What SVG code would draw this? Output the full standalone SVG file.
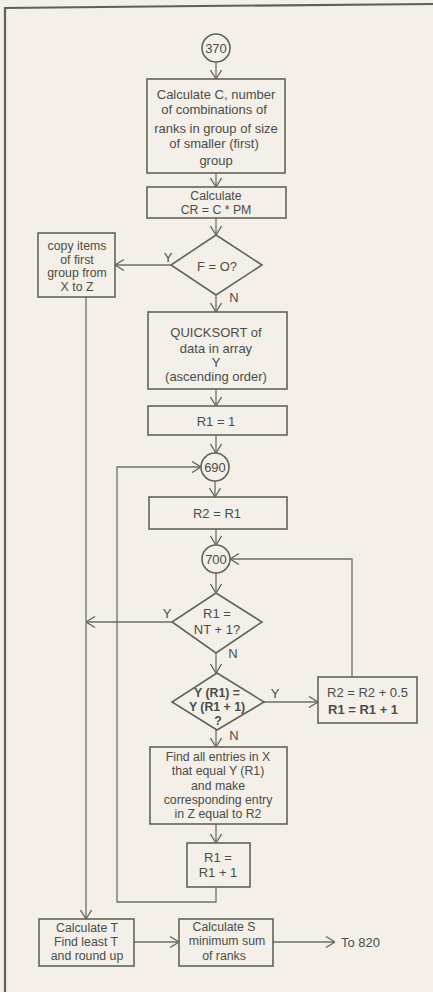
<svg xmlns="http://www.w3.org/2000/svg" width="433" height="992" viewBox="0 0 433 992">
<style>
.bg{fill:#f4efe9}
.n{fill:none;stroke:#5f6656;stroke-width:1.6}
.c{fill:none;stroke:#6b7161;stroke-width:1.3}
.t{font-family:"Liberation Sans",Arial,sans-serif;font-size:13px;fill:#4b4d46;text-anchor:middle;dominant-baseline:central}
.s{font-size:12.3px}
.l{text-anchor:start}
.b{font-weight:bold}
</style>
<defs>
<marker id="a" viewBox="0 0 10 12" refX="10" refY="6" markerWidth="10" markerHeight="12" orient="auto" markerUnits="userSpaceOnUse">
<path d="M1,0.5 L10,6 L1,11.5" fill="none" stroke="#5f6656" stroke-width="1.3"/>
</marker>
</defs>
<rect class="bg" x="0" y="0" width="433" height="992"/>
<path d="M5,992 V8 L200,6 L433,4" fill="none" stroke="#5c6352" stroke-width="2.2"/>

<g id="connectors">
<path class="c" d="M216,62 V79" marker-end="url(#a)"/>
<path class="c" d="M216,173 V187" marker-end="url(#a)"/>
<path class="c" d="M216,218 V235" marker-end="url(#a)"/>
<path class="c" d="M171,265 H115" marker-end="url(#a)"/>
<path class="c" d="M216,295 V312" marker-end="url(#a)"/>
<path class="c" d="M216,389 V406" marker-end="url(#a)"/>
<path class="c" d="M216,435 V453" marker-end="url(#a)"/>
<path class="c" d="M215,481 V497" marker-end="url(#a)"/>
<path class="c" d="M216,529 V545" marker-end="url(#a)"/>
<path class="c" d="M216,573 V593" marker-end="url(#a)"/>
<path class="c" d="M172,622 H86" marker-end="url(#a)"/>
<path class="c" d="M216,653 V673" marker-end="url(#a)"/>
<path class="c" d="M264,702 H318" marker-end="url(#a)"/>
<path class="c" d="M352,677 V559 H230" marker-end="url(#a)"/>
<path class="c" d="M216,730 V747" marker-end="url(#a)"/>
<path class="c" d="M216,824 V843" marker-end="url(#a)"/>
<path class="c" d="M216,887 V902 H117 V467 H201" marker-end="url(#a)"/>
<path class="c" d="M86,297 V919" marker-end="url(#a)"/>
<path class="c" d="M134,942 H179" marker-end="url(#a)"/>
<path class="c" d="M273,942 H335" marker-end="url(#a)"/>
</g>

<g id="n370">
<circle class="n" cx="216" cy="48" r="14"/>
<text class="t" x="216" y="48">370</text>
</g>
<g id="calcC">
<rect class="n" x="147" y="79" width="138" height="94"/>
<text class="t" x="216" y="94">Calculate C,  number</text>
<text class="t" x="214" y="109">of combinations  of</text>
<text class="t" x="216" y="128">ranks  in group of size</text>
<text class="t" x="214" y="143">of smaller (first)</text>
<text class="t" x="216" y="160">group</text>
</g>
<g id="calcCR">
<rect class="n" x="147" y="187" width="139" height="31"/>
<text class="t s" x="216" y="196">Calculate</text>
<text class="t s" x="216" y="210">CR =  C * PM</text>
</g>
<g id="decF">
<polygon class="n" points="216,235 262,265 216,295 171,265"/>
<text class="t" x="217" y="266">F = O?</text>
<text class="t" x="168" y="257">Y</text>
<text class="t" x="234" y="297">N</text>
</g>
<g id="copy">
<rect class="n" x="38" y="233" width="77" height="64"/>
<text class="t s" x="77" y="246">copy items</text>
<text class="t s" x="77" y="259.7">of first</text>
<text class="t s" x="77" y="273.3">group from</text>
<text class="t s" x="77" y="287">X to Z</text>
</g>
<g id="quicksort">
<rect class="n" x="148" y="312" width="139" height="77"/>
<text class="t" x="216" y="332">QUICKSORT of</text>
<text class="t" x="216" y="348">data in array</text>
<text class="t" x="216" y="362">Y</text>
<text class="t" x="216" y="376">(ascending order)</text>
</g>
<g id="r1eq1">
<rect class="n" x="148" y="406" width="139" height="29"/>
<text class="t" x="216" y="421">R1  =  1</text>
</g>
<g id="n690">
<circle class="n" cx="215" cy="467" r="14"/>
<text class="t" x="215" y="467">690</text>
</g>
<g id="r2eqr1">
<rect class="n" x="149" y="497" width="138" height="32"/>
<text class="t" x="217" y="513">R2  =  R1</text>
</g>
<g id="n700">
<circle class="n" cx="216" cy="559" r="14"/>
<text class="t" x="216" y="559">700</text>
</g>
<g id="decNT">
<polygon class="n" points="216,593 262,622 216,653 172,622"/>
<text class="t" x="217" y="613">R1 =</text>
<text class="t" x="217" y="629">NT + 1?</text>
<text class="t" x="167" y="613">Y</text>
<text class="t" x="233" y="653">N</text>
</g>
<g id="decY">
<polygon class="n" points="217,673 264,702 217,730 172,702"/>
<text class="t b s" x="217" y="693">Y (R1) =</text>
<text class="t b s" x="217" y="707">Y (R1 + 1)</text>
<text class="t b s" x="218" y="721">?</text>
<text class="t" x="275" y="693">Y</text>
<text class="t" x="234" y="735">N</text>
</g>
<g id="incr">
<rect class="n" x="318" y="677" width="99" height="46"/>
<text class="t l" x="327" y="692">R2  =  R2 + 0.5</text>
<text class="t l b" x="328" y="709">R1  =  R1 + 1</text>
</g>
<g id="find">
<rect class="n" x="150" y="747" width="137" height="77"/>
<text class="t s" x="218" y="757">Find all entries in X</text>
<text class="t s" x="218" y="771">that equal Y (R1)</text>
<text class="t s" x="218" y="786">and make</text>
<text class="t s" x="218" y="800">corresponding  entry</text>
<text class="t s" x="218" y="814">in Z equal to R2</text>
</g>
<g id="r1inc">
<rect class="n" x="187" y="843" width="63" height="44"/>
<text class="t" x="218" y="857">R1 =</text>
<text class="t" x="218" y="872">R1 + 1</text>
</g>
<g id="calcT">
<rect class="n" x="39" y="919" width="95" height="47"/>
<text class="t s" x="87" y="928">Calculate T</text>
<text class="t s" x="86" y="942">Find least T</text>
<text class="t s" x="87" y="956">and round up</text>
</g>
<g id="calcS">
<rect class="n" x="179" y="919" width="94" height="47"/>
<text class="t s" x="224" y="927">Calculate S</text>
<text class="t s" x="227" y="941">minimum sum</text>
<text class="t s" x="224" y="956">of ranks</text>
</g>
<g id="to820">
<text class="t l" x="341" y="942">To 820</text>
</g>
</svg>
